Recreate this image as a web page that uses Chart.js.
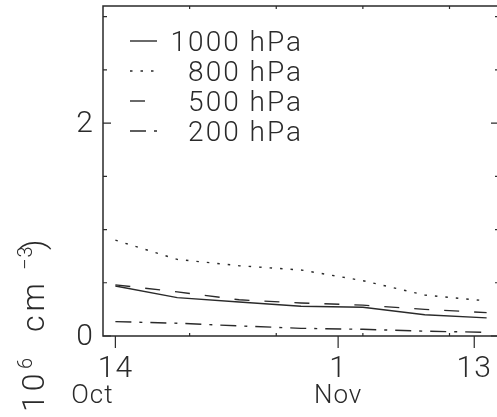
<!DOCTYPE html>
<html><head><meta charset="utf-8">
<script src="https://cdn.jsdelivr.net/npm/chart.js@4/dist/chart.umd.min.js"></script>
<style>html,body{margin:0;padding:0;background:#fff;overflow:hidden;width:497px;height:417px}
#wrap{width:500px;height:417px;position:relative}</style></head>
<body><div id="wrap"><canvas id="c" width="500" height="417"></canvas></div>
<script>
// ---- data (days since 14 Oct) ----
const days = [0, 5, 10, 15, 20, 25, 30];
const p1000 = [0.47, 0.36, 0.32, 0.28, 0.27, 0.20, 0.17];
const p800  = [0.90, 0.72, 0.66, 0.62, 0.52, 0.385, 0.33];
const p500  = [0.48, 0.415, 0.34, 0.31, 0.29, 0.25, 0.22];
const p200  = [0.135, 0.12, 0.095, 0.072, 0.063, 0.045, 0.035];
const seriesNames = ['1000 hPa', '800 hPa', '500 hPa', '200 hPa'];
const xMajorTicks = [0, 18, 29];
const xDayLabels = ['14', '1', '13'];
const xMonthLabels = ['Oct', 'Nov', ''];
const xMinorTicks = [6, 13, 20, 27];
const yMajorTicks = [0, 2];
const yMajorLabels = ['0', '2'];
const yMinorTicks = [0.5, 1, 1.5, 2.5, 3];

const INK = '#2a2a2a';
const FONT = 'Roboto';
const LW = 1.4;
const dashes = [[], [2.5, 8], [15, 15], [16, 8, 3, 8]];
const seriesVals = [p1000, p800, p500, p200];

const datasets = seriesVals.map((vals, i) => ({
  label: seriesNames[i],
  data: days.map((d, k) => ({x: d, y: vals[k]})),
  borderColor: INK, borderWidth: LW, borderDash: dashes[i],
  pointRadius: 0, tension: 0, fill: false
}));

function txt(ctx, s, x, y, size, align, base, ls) {
  ctx.font = `300 ${size}px ${FONT}`;
  ctx.letterSpacing = (ls || 0) + 'px';
  ctx.textAlign = align; ctx.textBaseline = base;
  ctx.fillText(s, x, y);
  ctx.letterSpacing = '0px';
}

const deco = {
  id: 'deco',
  afterDraw(chart) {
    const ctx = chart.ctx, ca = chart.chartArea;
    const xs = chart.scales.x, ys = chart.scales.y;
    ctx.save();
    ctx.strokeStyle = INK; ctx.fillStyle = INK; ctx.lineWidth = 1.5;
    ctx.setLineDash([]);
    ctx.beginPath();
    ctx.moveTo(ca.left, ca.top); ctx.lineTo(ca.left, ca.bottom);
    ctx.lineTo(ca.right, ca.bottom); ctx.lineTo(ca.right, ca.top);
    ctx.closePath(); ctx.stroke();
    ctx.lineWidth = 1.2;
    ctx.beginPath();
    xMajorTicks.forEach(v => { const px = xs.getPixelForValue(v); ctx.moveTo(px, ca.bottom); ctx.lineTo(px, ca.bottom + 12); });
    xMinorTicks.forEach(v => { const px = xs.getPixelForValue(v);
      ctx.moveTo(px, ca.bottom); ctx.lineTo(px, ca.bottom - 3);
      ctx.moveTo(px, ca.top); ctx.lineTo(px, ca.top + 3); });
    yMajorTicks.forEach(v => { const py = ys.getPixelForValue(v);
      ctx.moveTo(ca.left, py); ctx.lineTo(ca.left + 8, py);
      ctx.moveTo(ca.right, py); ctx.lineTo(ca.right - 8, py); });
    yMinorTicks.forEach(v => { const py = ys.getPixelForValue(v);
      ctx.moveTo(ca.left, py); ctx.lineTo(ca.left + 4, py);
      ctx.moveTo(ca.right, py); ctx.lineTo(ca.right - 4, py); });
    ctx.stroke();
    // tick labels
    yMajorTicks.forEach((v, i) => txt(ctx, yMajorLabels[i], ca.left - 10, ys.getPixelForValue(v) + 1, 30, 'right', 'middle'));
    const monthShift = [-23, 0, 0];
    xMajorTicks.forEach((v, i) => {
      const px = xs.getPixelForValue(v);
      txt(ctx, xDayLabels[i], px, ca.bottom + 41, 30, 'center', 'alphabetic', 1);
      if (xMonthLabels[i]) txt(ctx, xMonthLabels[i], px + monthShift[i], ca.bottom + 67, 26, 'center', 'alphabetic', 1);
    });
    // legend
    const rowY = [41, 71, 101, 131];
    chart.data.datasets.forEach((ds, i) => {
      ctx.lineWidth = LW; ctx.setLineDash(ds.borderDash);
      ctx.beginPath(); ctx.moveTo(130, rowY[i]); ctx.lineTo(157, rowY[i]); ctx.stroke();
      ctx.setLineDash([]);
      txt(ctx, ds.label, 303, rowY[i] + 10, 28, 'right', 'alphabetic', 2);
    });
    // y title (rotated)
    ctx.translate(44, 0); ctx.rotate(-Math.PI / 2);
    const seg = [['(', 32, 0, -440, 0], ['10', 32, 0, -412, 3], ['6', 20, -12, -369, 0], ['cm', 32, 0, -332, 4], ['\u22123', 20, -12, -270, 1], [')', 32, 0, -250, 0]];
    seg.forEach(([s, sz, rise, pos, ls]) => txt(ctx, s, pos, rise, sz, 'left', 'alphabetic', ls));
    ctx.restore();
  }
};

new Chart(document.getElementById('c'), {
  type: 'line',
  data: {datasets},
  options: {
    responsive: false, animation: false, devicePixelRatio: 1,
    layout: {padding: {left: 103, top: 6, right: 1, bottom: 81}},
    plugins: {legend: {display: false}, tooltip: {enabled: false}},
    scales: {
      x: {type: 'linear', min: -1, max: 31, display: false},
      y: {type: 'linear', min: 0, max: 3.1, display: false}
    }
  },
  plugins: [deco]
});
</script></body></html>
